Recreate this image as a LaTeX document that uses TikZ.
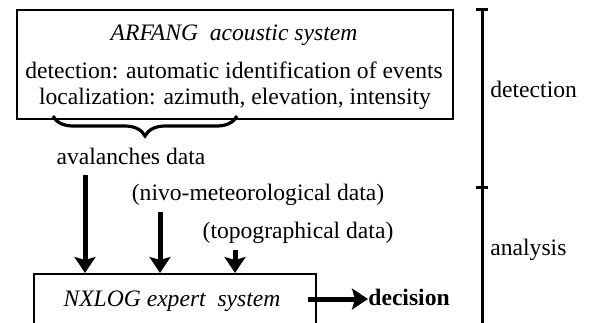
\documentclass[tikz,border=0pt]{standalone}
\usepackage{fontspec}
\setmainfont{Liberation Serif}
\usetikzlibrary{positioning, arrows.meta, decorations.pathreplacing}

\begin{document}
\begin{tikzpicture}[x=0.5pt, y=-0.5pt, font=\fontsize{11.8}{14}\selectfont,
  box/.style={draw, line width=1pt, inner sep=0pt, anchor=north west},
  txt/.style={inner sep=0pt, anchor=base},
  flow/.style={line width=2.5pt, -{Stealth[length=8pt, width=10.5pt, inset=1.5pt]}},
  scale line/.style={line width=1.5pt}]
\useasboundingbox (0,0) rectangle (595,322);
\node[box, minimum width=218pt, minimum height=54.5pt] (arfang) at (16,9) {};
\node[txt] (title) at (234,40) {\itshape ARFANG\ \ acoustic system};
\node[txt] (det) at (234,78) {detection: automatic identification of events};
\node[txt] (loc) at (235,104) {localization: azimuth, elevation, intensity};
\draw[line width=1.6pt, decorate, decoration={brace, mirror, amplitude=10pt}]
  (53,116) -- (237,116);
\node[txt] (aval) at (131,164) {avalanches data};
\node[txt] (nivo) at (258,200) {(nivo-meteorological data)};
\node[txt] (topo) at (298,238) {(topographical data)};
\node[box, minimum width=141pt, minimum height=40pt] (nxlog) at (33,273) {};
\node[txt] (expert) at (172,306) {\itshape NXLOG expert\ \ system};
\node[txt, anchor=base west, font=\fontsize{11.8}{14}\selectfont\bfseries] (decision) at (368,305) {decision};
\coordinate (s1) at (85,175);
\coordinate (s2) at (160,212);
\coordinate (s3) at (235,250);
\coordinate (s4) at (308,299);
\draw[flow] (s1) -- (s1 |- nxlog.north);
\draw[flow] (s2) -- (s2 |- nxlog.north);
\draw[flow] (s3) -- (s3 |- nxlog.north);
\draw[flow] (s4) -- (s4 -| decision.west);
\draw[scale line] (482,9) -- (482,330);
\draw[scale line] (476,9) -- (488,9);
\draw[scale line] (476,187) -- (488,187);
\node[txt, anchor=base west] (detlabel) at (490,97) {detection};
\node[txt, anchor=base west] (anlabel) at (490,255) {analysis};
\end{tikzpicture}
\end{document}
